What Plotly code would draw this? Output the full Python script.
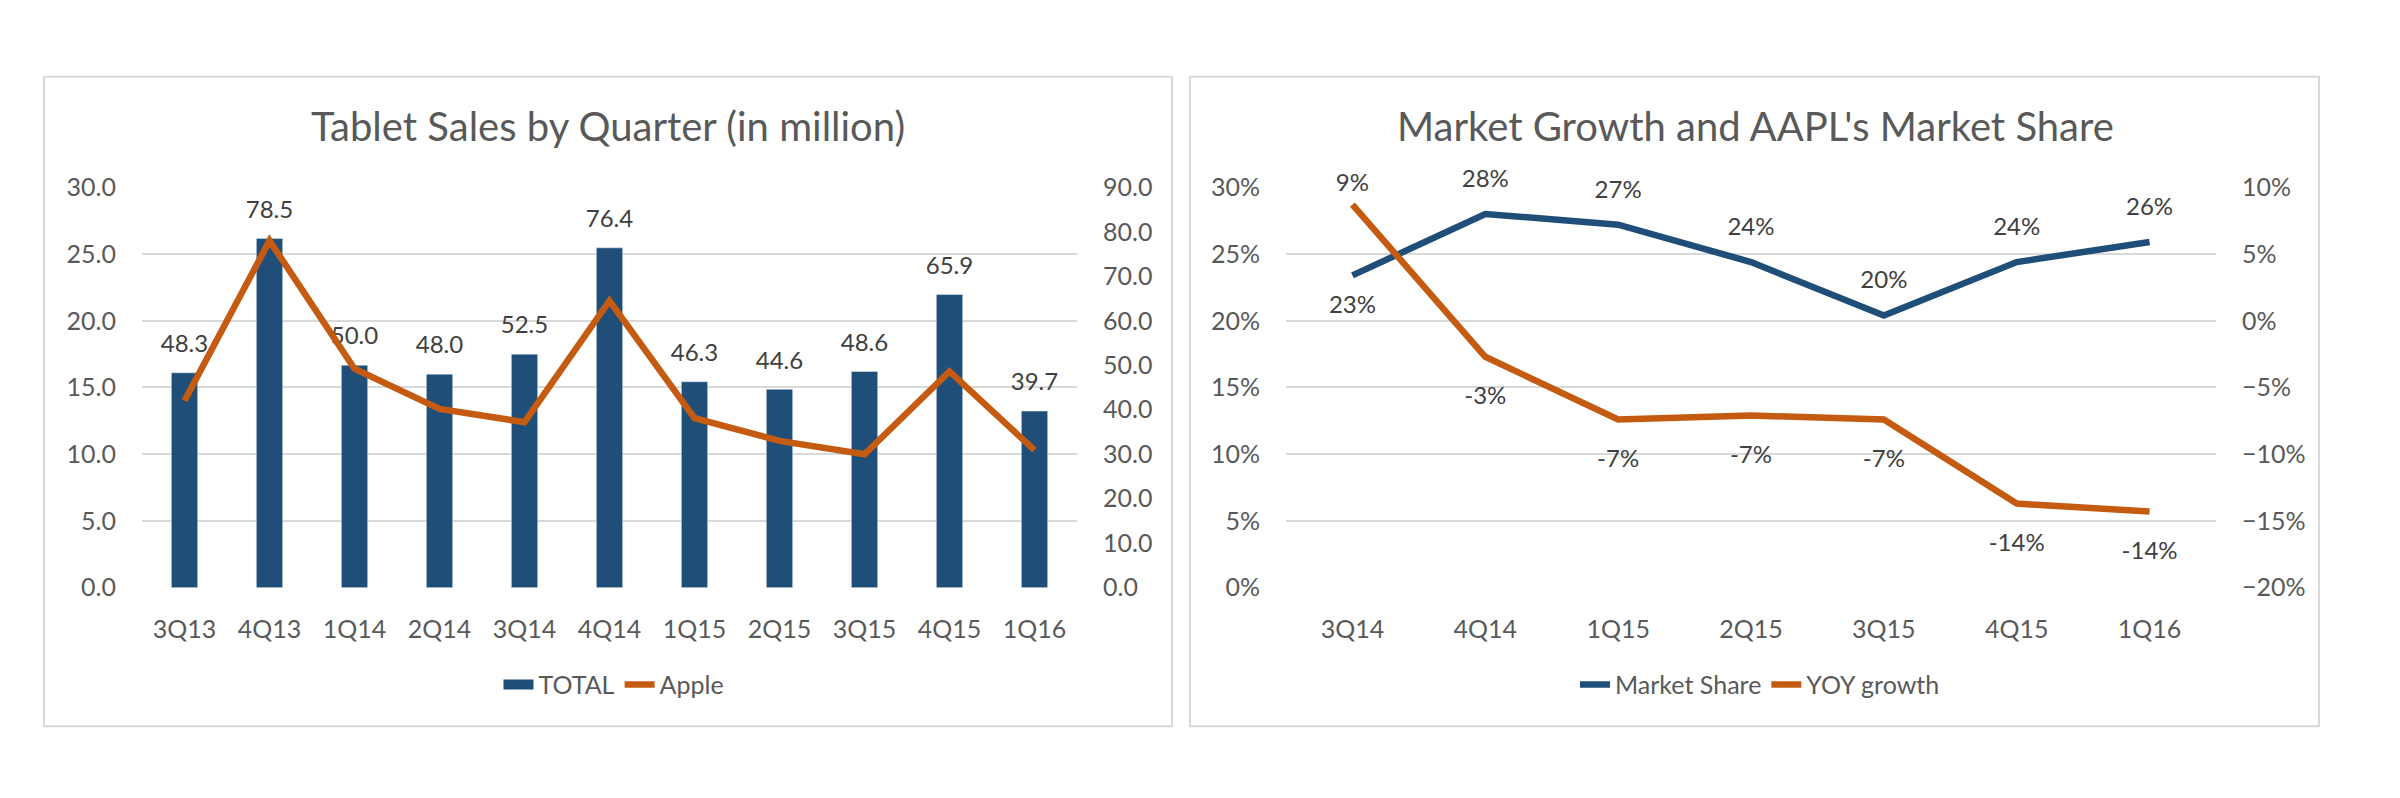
import plotly.graph_objects as go

W, H = 2400, 798

# ---- data: left chart ----
quarters_left = ["3Q13", "4Q13", "1Q14", "2Q14", "3Q14", "4Q14", "1Q15", "2Q15", "3Q15", "4Q15", "1Q16"]
total_sales = [48.3, 78.5, 50.0, 48.0, 52.5, 76.4, 46.3, 44.6, 48.6, 65.9, 39.7]
apple_sales = [14.0, 26.0, 16.4, 13.4, 12.4, 21.5, 12.7, 11.0, 10.0, 16.2, 10.3]

# ---- data: right chart ----
quarters_right = ["3Q14", "4Q14", "1Q15", "2Q15", "3Q15", "4Q15", "1Q16"]
market_share = [0.234, 0.280, 0.272, 0.244, 0.204, 0.244, 0.259]
yoy_growth = [0.087, -0.027, -0.074, -0.071, -0.074, -0.137, -0.143]

BLUE = "#1F4E79"
ORANGE = "#C55A11"
TXT = "#595959"
LBL = "#404040"
GRID = "#D9D9D9"
FONT = "Lato"


def px_x(p):
    return p / W


def px_y(p):
    return 1 - p / H


# label placement (style): above / below the line, with the gap set by an invisible marker
share_pos = ["bottom center"] + ["top center"] * 6
share_gap = [29] + [32] * 6
yoy_pos = ["top center"] + ["bottom center"] * 6
yoy_gap = [10] + [45] * 6

lblfont = dict(family=FONT, size=24, color=LBL)
clear_marker = dict(color="rgba(0,0,0,0)", line=dict(width=0), opacity=1)

fig = go.Figure()

# Left: bars on main axis (right side scale 0-90), line on overlay (left scale 0-30)
fig.add_trace(go.Bar(
    x=quarters_left, y=total_sales, name="TOTAL", marker_color=BLUE,
    width=0.31, xaxis="x", yaxis="y", showlegend=False,
))
# legend swatch for TOTAL (wide rectangle like the original)
fig.add_trace(go.Scatter(
    x=[None], y=[None], name="TOTAL", mode="lines",
    line=dict(color=BLUE, width=15), xaxis="x", yaxis="y", legend="legend",
))
fig.add_trace(go.Scatter(
    x=quarters_left, y=total_sales, mode="markers+text", text=[f"{v:.1f}" for v in total_sales],
    textposition="top center", marker=dict(size=22, **clear_marker),
    textfont=lblfont, showlegend=False, hoverinfo="skip", cliponaxis=False,
    xaxis="x", yaxis="y",
))
fig.add_trace(go.Scatter(
    x=quarters_left, y=apple_sales, name="Apple", mode="lines",
    line=dict(color=ORANGE, width=6.5), xaxis="x", yaxis="y2", legend="legend",
))

# Right: market share on main (left 0-30%), YOY on overlay (right -20%..10%)
fig.add_trace(go.Scatter(
    x=quarters_right, y=market_share, name="Market Share", mode="lines",
    line=dict(color=BLUE, width=6.5), xaxis="x2", yaxis="y3", legend="legend2",
))
fig.add_trace(go.Scatter(
    x=quarters_right, y=market_share, mode="markers+text", text=[f"{v:.0%}" for v in market_share],
    textposition=share_pos, marker=dict(size=share_gap, **clear_marker),
    textfont=lblfont, showlegend=False, hoverinfo="skip", cliponaxis=False,
    xaxis="x2", yaxis="y3",
))
fig.add_trace(go.Scatter(
    x=quarters_right, y=yoy_growth, name="YOY growth", mode="lines",
    line=dict(color=ORANGE, width=6.5), xaxis="x2", yaxis="y4", legend="legend2",
))
fig.add_trace(go.Scatter(
    x=quarters_right, y=yoy_growth, mode="markers+text", text=[f"{v:.0%}" for v in yoy_growth],
    textposition=yoy_pos, marker=dict(size=yoy_gap, **clear_marker),
    textfont=lblfont, showlegend=False, hoverinfo="skip", cliponaxis=False,
    xaxis="x2", yaxis="y4",
))

ydom = [px_y(594), px_y(178)]
tickfont = dict(family=FONT, size=25, color=TXT)

common_x = dict(type="category", showgrid=False, zeroline=False, showline=False,
                ticks="", tickfont=tickfont, ticklabelstandoff=24, fixedrange=True)
common_y = dict(zeroline=False, showline=False, ticks="", tickfont=tickfont,
                ticklabelstandoff=25, fixedrange=True)

fig.update_layout(
    width=W, height=H,
    margin=dict(l=0, r=0, t=0, b=0),
    paper_bgcolor="white", plot_bgcolor="white",
    font=dict(family=FONT, color=TXT),
    xaxis=dict(domain=[px_x(142), px_x(1077)], anchor="y", range=[-0.5, 10.5], **common_x),
    yaxis=dict(domain=ydom, anchor="x", side="right", range=[0, 90], dtick=10,
               tickformat=".1f", showgrid=False, **common_y),
    yaxis2=dict(overlaying="y", anchor="x", side="left", range=[0, 30], dtick=5,
                tickformat=".1f", showgrid=True, gridcolor=GRID, gridwidth=2, **common_y),
    xaxis2=dict(domain=[px_x(1286), px_x(2216)], anchor="y3", range=[-0.5, 6.5], **common_x),
    yaxis3=dict(domain=ydom, anchor="x2", side="left", range=[0, 0.30], dtick=0.05,
                tickformat=".0%", showgrid=True, gridcolor=GRID, gridwidth=2, **common_y),
    yaxis4=dict(overlaying="y3", anchor="x2", side="right", range=[-0.20, 0.10], dtick=0.05,
                tickformat=".0%", showgrid=False, **common_y),
    legend=dict(orientation="h", x=px_x(614), y=px_y(695), xanchor="center", yanchor="middle",
                font=dict(family=FONT, size=25, color=TXT), bgcolor="rgba(0,0,0,0)"),
    legend2=dict(orientation="h", x=px_x(1760), y=px_y(695), xanchor="center", yanchor="middle",
                 font=dict(family=FONT, size=25, color=TXT), bgcolor="rgba(0,0,0,0)"),
    showlegend=True,
    annotations=[
        dict(text="Tablet Sales by Quarter (in million)", x=px_x(608), y=px_y(114),
             xref="paper", yref="paper", showarrow=False, xanchor="center", yanchor="middle",
             font=dict(family=FONT, size=40, color=TXT)),
        dict(text="Market Growth and AAPL's Market Share", x=px_x(1755), y=px_y(114),
             xref="paper", yref="paper", showarrow=False, xanchor="center", yanchor="middle",
             font=dict(family=FONT, size=40, color=TXT)),
    ],
    shapes=[
        dict(type="rect", xref="paper", yref="paper", x0=px_x(44), x1=px_x(1172),
             y0=px_y(738), y1=px_y(63), line=dict(color=GRID, width=2), layer="below"),
        dict(type="rect", xref="paper", yref="paper", x0=px_x(1190), x1=px_x(2319),
             y0=px_y(738), y1=px_y(63), line=dict(color=GRID, width=2), layer="below"),
    ],
)

fig.write_html("out.html", config={"displayModeBar": False},
               post_script="document.body.style.margin='0';")
